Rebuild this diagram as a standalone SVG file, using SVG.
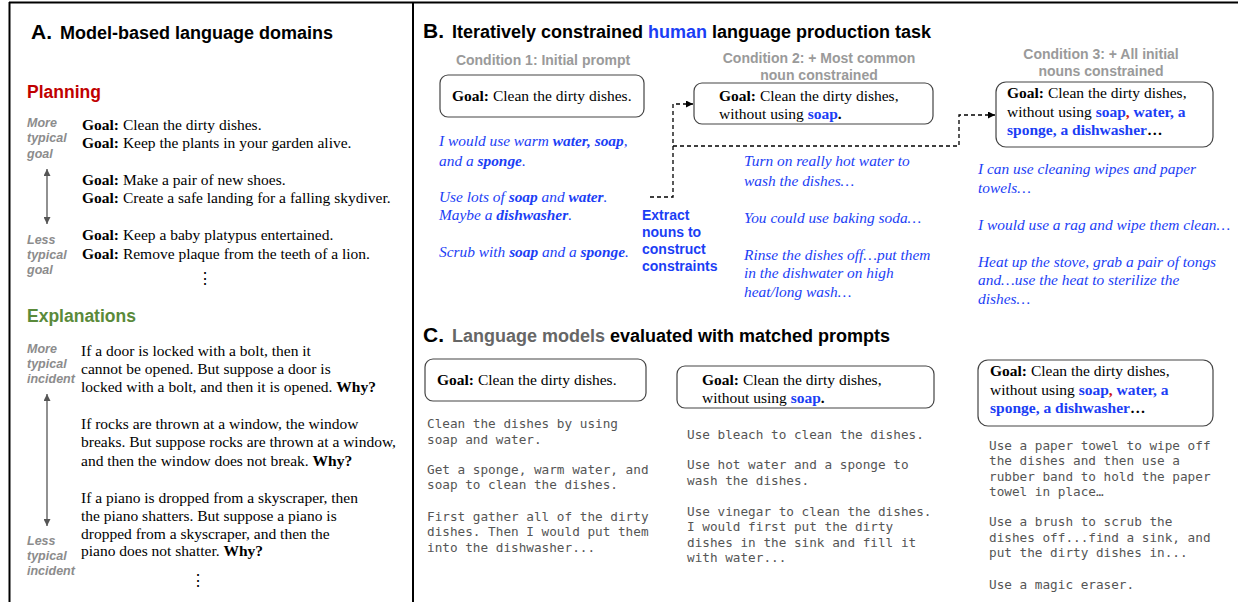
<svg xmlns="http://www.w3.org/2000/svg" width="1238" height="602" viewBox="0 0 1238 602">
<defs>
<style>
.ttl{font-family:"Liberation Sans",Arial,sans-serif;font-weight:bold;font-size:18px;fill:#000}
.let{font-family:"Liberation Sans",Arial,sans-serif;font-weight:bold;font-size:21px;fill:#000}
.sec{font-family:"Liberation Sans",Arial,sans-serif;font-weight:bold;font-size:17.5px}
.lab{font-family:"Liberation Sans",Arial,sans-serif;font-weight:bold;font-style:italic;font-size:12.5px;fill:#8c8c8c}
.ser{font-family:"Liberation Serif","Times New Roman",serif;font-size:15.5px;fill:#000}
.b{font-weight:bold}
.bl{fill:#1b3ef5}
.red{fill:#d01010}
.it{font-family:"Liberation Serif","Times New Roman",serif;font-style:italic;font-size:15.4px;fill:#1b3ef5}
.cond{font-family:"Liberation Sans",Arial,sans-serif;font-weight:bold;font-size:14px;fill:#9a9a9a}
.ext{font-family:"Liberation Sans",Arial,sans-serif;font-weight:bold;font-size:14px;fill:#1b3ef5}
.mono{font-family:"DejaVu Sans Mono","Liberation Mono",monospace;font-size:12.7px;fill:#555}
.box{fill:#fff;stroke:#444;stroke-width:1.2}
.frame{stroke:#000;stroke-width:2;fill:none}
.dash{fill:none;stroke:#000;stroke-width:1.3;stroke-dasharray:4 3}
.dbl{stroke:#555;stroke-width:1.3;fill:none}
</style>
<marker id="ah" viewBox="0 0 10 10" refX="10" refY="5" markerWidth="7" markerHeight="7" orient="auto" markerUnits="userSpaceOnUse"><path d="M0,0 L10,5 L0,10 z" fill="#000"/></marker>
<marker id="gh" viewBox="0 0 10 10" refX="10" refY="5" markerWidth="7" markerHeight="7" orient="auto-start-reverse" markerUnits="userSpaceOnUse"><path d="M0,0 L10,5 L0,10 z" fill="#555"/></marker>
</defs>
<rect width="1238" height="602" fill="#fff"/>
<g id="frame">
<line class="frame" x1="9" y1="2.5" x2="1238" y2="2.5"/>
<line class="frame" x1="9.5" y1="2" x2="9.5" y2="602"/>
<line class="frame" x1="413" y1="2" x2="413" y2="602"/>
</g>

<g id="panelA">
<text x="31" y="39" class="let">A.</text>
<text x="60" y="39" class="ttl">Model-based language domains</text>
<text x="27" y="98" class="sec" fill="#c00000">Planning</text>
<text class="lab"><tspan x="27" y="127">More</tspan><tspan x="27" y="142">typical</tspan><tspan x="27" y="158">goal</tspan></text>
<text class="lab"><tspan x="27" y="244">Less</tspan><tspan x="27" y="259">typical</tspan><tspan x="27" y="274">goal</tspan></text>
<line class="dbl" x1="47" y1="169" x2="47" y2="224" marker-start="url(#gh)" marker-end="url(#gh)"/>
<text class="ser"><tspan x="82" y="130"><tspan class="b">Goal:</tspan> Clean the dirty dishes.</tspan><tspan x="82" y="148"><tspan class="b">Goal:</tspan> Keep the plants in your garden alive.</tspan><tspan x="82" y="185"><tspan class="b">Goal:</tspan> Make a pair of new shoes.</tspan><tspan x="82" y="203"><tspan class="b">Goal:</tspan> Create a safe landing for a falling skydiver.</tspan><tspan x="82" y="240"><tspan class="b">Goal:</tspan> Keep a baby platypus entertained.</tspan><tspan x="82" y="259"><tspan class="b">Goal:</tspan> Remove plaque from the teeth of a lion.</tspan></text>
<text x="205" y="284" class="ser" text-anchor="middle">⋮</text>

<text x="27" y="322" class="sec" fill="#5a8a3a">Explanations</text>
<text class="lab"><tspan x="27" y="353">More</tspan><tspan x="27" y="368">typical</tspan><tspan x="27" y="383">incident</tspan></text>
<text class="lab"><tspan x="27" y="545">Less</tspan><tspan x="27" y="560">typical</tspan><tspan x="27" y="575">incident</tspan></text>
<line class="dbl" x1="47" y1="394" x2="47" y2="526" marker-start="url(#gh)" marker-end="url(#gh)"/>
<text class="ser"><tspan x="81" y="356">If a door is locked with a bolt, then it</tspan><tspan x="81" y="374">cannot be opened. But suppose a door is</tspan><tspan x="81" y="392">locked with a bolt, and then it is opened. <tspan class="b">Why?</tspan></tspan><tspan x="81" y="429">If rocks are thrown at a window, the window</tspan><tspan x="81" y="447">breaks. But suppose rocks are thrown at a window,</tspan><tspan x="81" y="466">and then the window does not break. <tspan class="b">Why?</tspan></tspan><tspan x="81" y="503">If a piano is dropped from a skyscraper, then</tspan><tspan x="81" y="521">the piano shatters. But suppose a piano is</tspan><tspan x="81" y="539">dropped from a skyscraper, and then the</tspan><tspan x="81" y="556">piano does not shatter. <tspan class="b">Why?</tspan></tspan></text>
<text x="198" y="586" class="ser" text-anchor="middle">⋮</text>
</g>

<g id="panelB-title">
<text x="423" y="38" class="let">B.</text>
<text x="452" y="38" class="ttl">Iteratively constrained <tspan class="bl">human</tspan> language production task</text>
</g>

<g id="cond1">
<text x="543" y="65" class="cond" text-anchor="middle">Condition 1: Initial prompt</text>
<rect class="box" x="440" y="75" width="204" height="42" rx="8"/>
<text x="452" y="101" class="ser"><tspan class="b">Goal:</tspan> Clean the dirty dishes.</text>
<text class="it"><tspan x="439" y="146">I would use warm <tspan class="b">water, soap</tspan>,</tspan><tspan x="439" y="166">and a <tspan class="b">sponge</tspan>.</tspan><tspan x="439" y="202">Use lots of <tspan class="b">soap</tspan> and <tspan class="b">water</tspan>.</tspan><tspan x="439" y="220">Maybe a <tspan class="b">dishwasher</tspan>.</tspan><tspan x="439" y="257">Scrub with <tspan class="b">soap</tspan> and a <tspan class="b">sponge</tspan>.</tspan></text>
</g>

<g id="extract">
<text class="ext"><tspan x="642" y="220">Extract</tspan><tspan x="642" y="237">nouns to</tspan><tspan x="642" y="254">construct</tspan><tspan x="642" y="271">constraints</tspan></text>
</g>

<g id="cond2">
<text class="cond" text-anchor="middle"><tspan x="819" y="63">Condition 2: + Most common</tspan><tspan x="819" y="80">noun constrained</tspan></text>
<rect class="box" x="694" y="83" width="239" height="41" rx="8"/>
<text class="ser"><tspan x="719" y="101"><tspan class="b">Goal:</tspan> Clean the dirty dishes,</tspan><tspan x="719" y="119">without using <tspan class="b bl">soap</tspan><tspan class="b">.</tspan></tspan></text>
<text class="it"><tspan x="744" y="166">Turn on really hot water to</tspan><tspan x="744" y="186">wash the dishes…</tspan><tspan x="744" y="223">You could use baking soda…</tspan><tspan x="744" y="260">Rinse the dishes off…put them</tspan><tspan x="744" y="278">in the dishwater on high</tspan><tspan x="744" y="297">heat/long wash…</tspan></text>
</g>

<g id="cond3">
<text class="cond" text-anchor="middle"><tspan x="1101" y="59">Condition 3: + All initial</tspan><tspan x="1101" y="76">nouns constrained</tspan></text>
<rect class="box" x="996" y="82" width="217" height="65" rx="10"/>
<text class="ser"><tspan x="1007" y="98"><tspan class="b">Goal:</tspan> Clean the dirty dishes,</tspan><tspan x="1007" y="117">without using <tspan class="b bl">soap</tspan><tspan class="b red">,</tspan><tspan class="b bl"> water, a</tspan></tspan><tspan x="1007" y="135"><tspan class="b bl">sponge, a dishwasher</tspan><tspan class="b">…</tspan></tspan></text>
<text class="it"><tspan x="978" y="174">I can use cleaning wipes and paper</tspan><tspan x="978" y="193">towels…</tspan><tspan x="978" y="230">I would use a rag and wipe them clean…</tspan><tspan x="978" y="267">Heat up the stove, grab a pair of tongs</tspan><tspan x="978" y="285">and…use the heat to sterilize the</tspan><tspan x="978" y="304">dishes…</tspan></text>
</g>

<g id="connectors">
<path class="dash" d="M650,197 H673 V104 H693" marker-end="url(#ah)"/>
<path class="dash" d="M673,146 H959 V115 H995" marker-end="url(#ah)"/>
</g>

<g id="panelC-title">
<text x="423" y="342" class="let">C.</text>
<text x="452" y="342" class="ttl"><tspan fill="#666">Language models</tspan> evaluated with matched prompts</text>
</g>

<g id="lm1">
<rect class="box" x="425" y="359" width="221" height="42" rx="8"/>
<text x="437" y="385" class="ser"><tspan class="b">Goal:</tspan> Clean the dirty dishes.</text>
<text class="mono"><tspan x="427" y="428">Clean the dishes by using</tspan><tspan x="427" y="444">soap and water.</tspan><tspan x="427" y="474">Get a sponge, warm water, and</tspan><tspan x="427" y="489">soap to clean the dishes.</tspan><tspan x="427" y="521">First gather all of the dirty</tspan><tspan x="427" y="536">dishes. Then I would put them</tspan><tspan x="427" y="552">into the dishwasher...</tspan></text>
</g>

<g id="lm2">
<rect class="box" x="677" y="366" width="257" height="42" rx="8"/>
<text class="ser"><tspan x="702" y="385"><tspan class="b">Goal:</tspan> Clean the dirty dishes,</tspan><tspan x="702" y="403">without using <tspan class="b bl">soap</tspan><tspan class="b">.</tspan></tspan></text>
<text class="mono"><tspan x="687" y="439">Use bleach to clean the dishes.</tspan><tspan x="687" y="469">Use hot water and a sponge to</tspan><tspan x="687" y="485">wash the dishes.</tspan><tspan x="687" y="516">Use vinegar to clean the dishes.</tspan><tspan x="687" y="531">I would first put the dirty</tspan><tspan x="687" y="547">dishes in the sink and fill it</tspan><tspan x="687" y="562">with water...</tspan></text>
</g>

<g id="lm3">
<rect class="box" x="978" y="360" width="235" height="66" rx="10"/>
<text class="ser"><tspan x="990" y="376"><tspan class="b">Goal:</tspan> Clean the dirty dishes,</tspan><tspan x="990" y="395">without using <tspan class="b bl">soap</tspan><tspan class="b red">,</tspan><tspan class="b bl"> water, a</tspan></tspan><tspan x="990" y="413"><tspan class="b bl">sponge, a dishwasher</tspan><tspan class="b">…</tspan></tspan></text>
<text class="mono"><tspan x="989" y="450">Use a paper towel to wipe off</tspan><tspan x="989" y="465">the dishes and then use a</tspan><tspan x="989" y="481">rubber band to hold the paper</tspan><tspan x="989" y="496">towel in place…</tspan><tspan x="989" y="526">Use a brush to scrub the</tspan><tspan x="989" y="542">dishes off...find a sink, and</tspan><tspan x="989" y="557">put the dirty dishes in...</tspan><tspan x="989" y="589">Use a magic eraser.</tspan></text>
</g>
</svg>
